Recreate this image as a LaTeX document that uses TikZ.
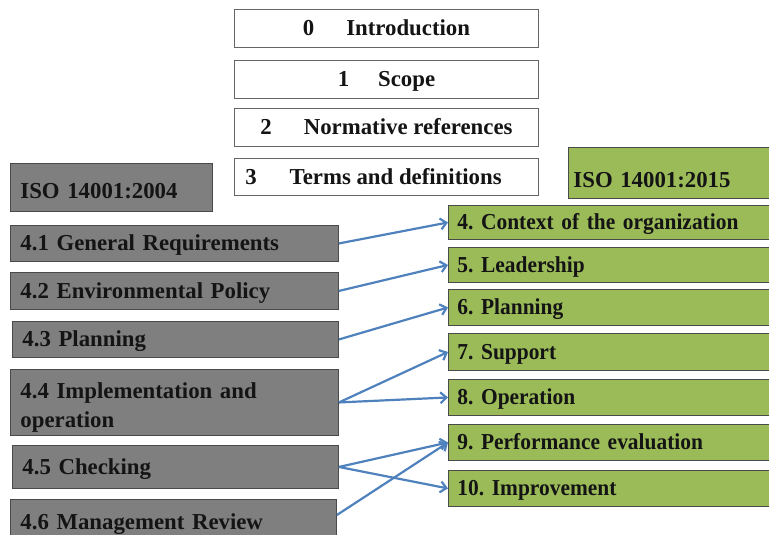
\documentclass[tikz,border=0pt]{standalone}
\usepackage{fontspec}
\setmainfont{Liberation Serif}
\newfontfamily\greenfont{Liberation Serif}[FakeStretch=0.94, WordSpace=0.7]
\usetikzlibrary{arrows.meta,calc}
\definecolor{grayfill}{HTML}{7F7F7F}
\definecolor{greenfill}{HTML}{9BBB59}
\definecolor{bordc}{HTML}{4A4A4A}
\definecolor{arrowc}{HTML}{4F81BD}
\definecolor{txtc}{HTML}{141414}
\tikzset{
  boxbase/.style={draw=bordc, line width=0.9pt, anchor=north west, inner ysep=0pt,
    text height=15pt, text depth=0pt, text=txtc,
    font=\fontsize{22.8}{29}\selectfont\bfseries\frenchspacing},
  graybox/.style={boxbase, fill=grayfill, inner xsep=10pt, align=left},
  greenbox/.style={boxbase, fill=greenfill, inner xsep=9pt, align=left, text width=314pt,
    font=\greenfont\fontsize{22.8}{29}\selectfont\bfseries\frenchspacing},
  greenhead/.style={boxbase, fill=greenfill, inner xsep=5pt, align=left},
  whitebox/.style={boxbase, fill=white, draw=bordc!85, inner xsep=0pt, minimum width=304pt, align=center},
  conn/.style={draw=arrowc, line width=2.2pt, -{Straight Barb[length=6pt,width=11pt]}}
}
\begin{document}
\frenchspacing
\begin{tikzpicture}[x=1pt,y=-1pt]
\path[use as bounding box] (0,0) rectangle (769,535);
\clip (0,0) rectangle (769,535);
% white boxes
\node[whitebox, minimum height=38] (w0) at (234,9) {0\hspace{32pt}Introduction};
\node[whitebox, minimum height=38] (w1) at (234,60) {1\hspace{29pt}Scope};
\node[whitebox, minimum height=38] (w2) at (234,108) {2\hspace{32pt}Normative references};
\node[whitebox, minimum height=37] (w3) at (234,158) {3\hspace{33pt}Terms and definitions\hspace*{26pt}};
% gray boxes (ISO 14001:2004)
\node[graybox, text width=182pt, minimum height=48, text height=23pt] (iso04) at (10,163) {ISO 14001:2004};
\node[graybox, text width=308pt, minimum height=36] (g41) at (10,225) {4.1 General Requirements};
\node[graybox, text width=308pt, minimum height=37] (g42) at (10,272) {4.2 Environmental Policy};
\node[graybox, text width=306pt, minimum height=36] (g43) at (12,321) {4.3 Planning};
\node[graybox, text width=308pt, minimum height=66, text depth=23pt] (g44) at (10,369) {4.4 Implementation and\\operation};
\node[graybox, text width=306pt, minimum height=43] (g45) at (12,445) {4.5 Checking};
\node[graybox, text width=306pt, minimum height=45] (g46) at (10,499) {4.6 Management Review};
% green boxes (ISO 14001:2015)
\node[greenhead, text width=202pt, minimum height=51, text height=30pt] (iso15) at (568,147) {ISO 14001:2015};
\node[greenbox, minimum height=34] (n4) at (448,205) {4. Context of the organization};
\node[greenbox, minimum height=35] (n5) at (448,247) {5. Leadership};
\node[greenbox, minimum height=36] (n6) at (448,289) {6. Planning};
\node[greenbox, minimum height=37] (n7) at (448,333) {7. Support};
\node[greenbox, minimum height=36] (n8) at (448,379) {8. Operation};
\node[greenbox, minimum height=36] (n9) at (448,424) {9. Performance evaluation};
\node[greenbox, minimum height=36] (n10) at (448,470) {10. Improvement};
% connectors
\coordinate (g46out) at ($(g46.north east)+(0,16)$);
\draw[conn] (g41.east) -- (n4.west);
\draw[conn] (g42.east) -- (n5.west);
\draw[conn] (g43.east) -- (n6.west);
\draw[conn] (g44.east) -- (n7.west);
\draw[conn] (g44.east) -- (n8.west);
\draw[conn] (g45.east) -- (n9.west);
\draw[conn] (g45.east) -- (n10.west);
\draw[conn] (g46out) -- (n9.west);
\end{tikzpicture}
\end{document}
